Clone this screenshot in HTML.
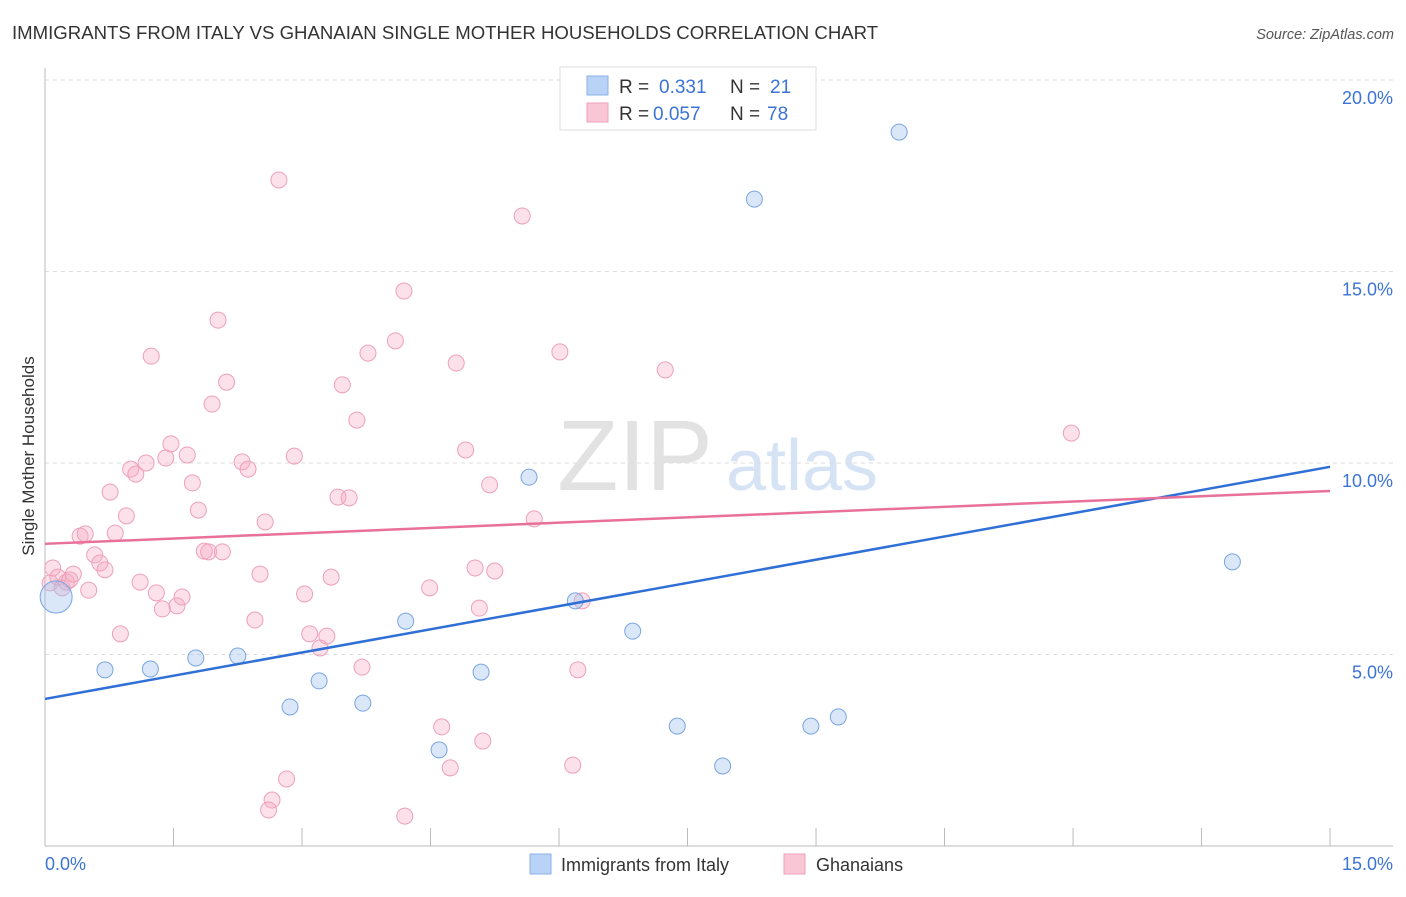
<!DOCTYPE html>
<html><head><meta charset="utf-8"><style>
body{margin:0;background:#fff;font-family:"Liberation Sans",sans-serif;}
svg text{font-family:"Liberation Sans",sans-serif;}
</style></head><body>
<svg id="c" width="1406" height="892" xmlns="http://www.w3.org/2000/svg">
<text x="12" y="39" font-size="18.6" fill="#333">IMMIGRANTS FROM ITALY VS GHANAIAN SINGLE MOTHER HOUSEHOLDS CORRELATION CHART</text>
<text x="1394" y="39" font-size="14.5" fill="#555" font-style="italic" text-anchor="end">Source: ZipAtlas.com</text>
<text x="635" y="490" font-size="100" fill="#e2e2e2" font-family="Liberation Serif" text-anchor="middle">ZIP</text>
<text x="802" y="490" font-size="72" fill="#d5e3f5" text-anchor="middle">atlas</text>
<text transform="translate(34,456) rotate(-90)" font-size="17" fill="#333" text-anchor="middle">Single Mother Households</text>
<g id="grid"></g><g id="pts"></g><g id="lines"></g>
<g>
<rect x="560" y="67" width="256" height="63" fill="#fff" stroke="#ddd"/>
<rect x="587" y="76" width="21" height="19" fill="#b8d3f5" stroke="#8ab0e6"/>
<rect x="587" y="103" width="21" height="19" fill="#f9c6d6" stroke="#eea0b8"/>
<text x="619" y="93" font-size="19" fill="#333">R = </text><text x="659" y="93" font-size="19" fill="#3b73d6">0.331</text>
<text x="730" y="93" font-size="19" fill="#333">N = </text><text x="770" y="93" font-size="19" fill="#3b73d6">21</text>
<text x="619" y="120" font-size="19" fill="#333">R = </text><text x="653" y="120" font-size="19" fill="#3b73d6">0.057</text>
<text x="730" y="120" font-size="19" fill="#333">N = </text><text x="767" y="120" font-size="19" fill="#3b73d6">78</text>
</g>
<g>
<rect x="530" y="854" width="21" height="20" fill="#b8d3f5" stroke="#8ab0e6"/>
<text x="561" y="871" font-size="18" fill="#333">Immigrants from Italy</text>
<rect x="784" y="854" width="21" height="20" fill="#f9c6d6" stroke="#eea0b8"/>
<text x="816" y="871" font-size="18" fill="#333">Ghanaians</text>
</g>
</svg>
<script>
const yTicks=[5,10,15,20];
const yTickLabels=["5.0%","10.0%","15.0%","20.0%"];
const xLabels=["0.0%","15.0%"];
const italyX=[0.13,0.70,1.23,1.76,2.25,2.86,3.20,3.71,4.21,4.60,5.09,5.65,6.19,6.86,7.38,7.91,8.28,8.94,9.26,9.97,13.86];
const italyY=[6.50,4.60,4.62,4.91,4.96,3.63,4.31,3.73,5.87,2.51,4.54,9.63,6.40,5.61,3.13,2.09,16.89,3.13,3.37,18.64,7.42];
const ghanaX=[0.06,0.09,0.15,0.20,0.25,0.29,0.33,0.41,0.47,0.51,0.58,0.64,0.70,0.76,0.82,0.88,0.95,1.00,1.06,1.11,1.18,1.24,1.30,1.37,1.41,1.47,1.54,1.60,1.66,1.72,1.79,1.86,1.91,1.95,2.02,2.07,2.12,2.30,2.37,2.45,2.51,2.57,2.73,2.91,3.03,3.09,3.21,3.29,3.34,3.42,3.47,3.55,3.64,3.70,3.77,4.09,4.19,4.49,4.63,4.73,4.80,4.91,5.02,5.07,5.11,5.19,5.25,5.57,5.71,6.01,6.16,6.22,6.27,7.24,11.98,4.20,2.65,2.61,2.82];
const ghanaY=[6.87,7.26,7.02,6.74,6.89,6.95,7.10,8.09,8.15,6.68,7.60,7.39,7.21,9.24,8.17,5.54,8.62,9.84,9.71,6.89,10.00,12.79,6.61,6.19,10.13,10.50,6.27,6.50,10.21,9.48,8.77,7.70,7.68,11.54,13.73,7.68,12.11,10.03,9.84,5.90,7.10,8.46,17.39,10.18,6.58,5.54,5.17,5.48,7.02,9.11,12.04,9.09,11.12,4.67,12.87,13.19,14.49,6.74,3.11,2.04,12.61,10.34,7.26,6.21,2.74,9.43,7.18,16.45,8.54,12.90,2.11,4.60,6.40,12.43,10.78,0.78,1.20,0.94,1.75];
const italyTrend=[3.84,9.90];
const ghanaTrend=[7.89,9.27];
const trendX=[0,15];
const X=v=>45+v*85.67, Y=v=>846-v*38.3;
const NS="http://www.w3.org/2000/svg";
function mk(t,a,p){const e=document.createElementNS(NS,t);for(const k in a)e.setAttribute(k,a[k]);p.appendChild(e);return e;}
const g=document.getElementById('grid'),svg=document.getElementById('c');
yTicks.forEach((t,i)=>{
 const l=mk('line',{x1:45,x2:1393,y1:Y(t),y2:Y(t),stroke:'#ddd','stroke-dasharray':'4,4'},g);
 
 
 const tx=mk('text',{x:1393,y:Y(t)+24,'font-size':18,fill:'#3b73d6','text-anchor':'end'},g);
 tx.textContent=yTickLabels[i];
 
 
});
const ya=mk('line',{x1:45,x2:45,y1:68,y2:846,stroke:'#bbb'},g);


const xa=mk('line',{x1:45,x2:1393,y1:846,y2:846,stroke:'#bbb'},g);


for(let i=1;i<=10;i++){const t=mk('line',{x1:X(i*1.5),x2:X(i*1.5),y1:828,y2:846,stroke:'#bbb'},g);
 
 }
[[0,'start'],[15,'end']].forEach((d,i)=>{const t=mk('text',{x:i?1393:45,y:870,'font-size':18,fill:'#3b73d6','text-anchor':d[1]},g);t.textContent=xLabels[i];
 
 });
const p=document.getElementById('pts');
ghanaX.forEach((x,i)=>{const c=mk('circle',{cx:X(x),cy:Y(ghanaY[i]),r:8,fill:'rgba(246,170,195,0.35)',stroke:'#eea0b8','stroke-width':1},p);
 
 });
italyX.forEach((x,i)=>{const c=mk('circle',{cx:X(x),cy:Y(italyY[i]),r:i==0?16:8,fill:'rgba(160,195,240,0.4)',stroke:'#7aa5e0','stroke-width':1},p);
 
 });
const L=document.getElementById('lines');
const a=mk('line',{x1:X(trendX[0]),x2:X(trendX[1]),y1:Y(italyTrend[0]),y2:Y(italyTrend[1]),stroke:'#2f6fd6','stroke-width':2.5},L);


const b=mk('line',{x1:X(trendX[0]),x2:X(trendX[1]),y1:Y(ghanaTrend[0]),y2:Y(ghanaTrend[1]),stroke:'#e8709a','stroke-width':2.5},L);


</script>
</body></html>
